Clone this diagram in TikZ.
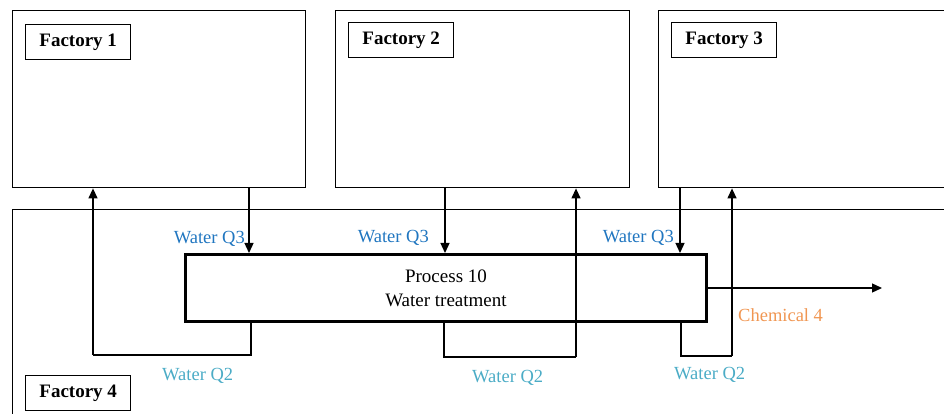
\documentclass[tikz,border=0pt]{standalone}
\usepackage{fontspec}
\setmainfont{Liberation Serif}
\usetikzlibrary{arrows.meta,positioning}
\definecolor{qthree}{RGB}{32,118,192}
\definecolor{qtwo}{RGB}{75,172,198}
\definecolor{chemorange}{RGB}{240,150,82}

\begin{document}
\begin{tikzpicture}[
    x=1pt, y=1pt,
    factory/.style={rectangle, draw, line width=1.4pt, anchor=north west, inner sep=0pt},
    tag/.style={rectangle, draw, line width=1.4pt, minimum width=105pt, minimum height=35pt,
                font=\fontsize{19}{23}\selectfont\bfseries, inner sep=0pt},
    process/.style={rectangle, draw, line width=3pt, anchor=north west, align=center,
                    minimum width=521pt, minimum height=67pt, font=\fontsize{19}{24}\selectfont},
    flow/.style={-{Triangle[length=10pt,width=9pt]}, line width=1.3pt},
    pipe/.style={line width=1.3pt},
    lab/.style={font=\fontsize{18.5}{22}\selectfont, inner sep=0pt}
]
\clip (0,0) rectangle (944,414);

% Factories
\node[factory, minimum width=293pt, minimum height=177pt] (f1) at (12,404) {};
\node[factory, minimum width=294pt, minimum height=177pt] (f2) at (335,404) {};
\node[factory, minimum width=300pt, minimum height=177pt] (f3) at (658,404) {};
\node[factory, minimum width=960pt, minimum height=230pt] (f4) at (12,205) {};

% Factory names
\node[tag, below right=14pt and 13pt of f1.north west] (t1) {Factory 1};
\node[tag, below right=12pt and 13pt of f2.north west] (t2) {Factory 2};
\node[tag, below right=12pt and 13pt of f3.north west] (t3) {Factory 3};
\node[tag, anchor=north west] (t4) at (25,39) {Factory 4};

% Water treatment
\node[process] (proc) at (184,161) {Process 10\\Water treatment};

% Connector columns
\coordinate (in1) at (249,0);
\coordinate (in2) at (445,0);
\coordinate (in3) at (680,0);
\coordinate (out1) at (251,0);
\coordinate (out2) at (444,0);
\coordinate (out3) at (681,0);
\coordinate (ret1) at (93,59);
\coordinate (ret2) at (576,57);
\coordinate (ret3) at (732,58);
\coordinate (chem) at (882,0);

% Water Q3 to treatment
\draw[flow] (in1 |- f1.south) -- (in1 |- proc.north);
\draw[flow] (in2 |- f2.south) -- (in2 |- proc.north);
\draw[flow] (in3 |- f3.south) -- (in3 |- proc.north);

% Water Q2 back to factories
\draw[pipe] (out1 |- proc.south) -- (out1 |- ret1) -- (ret1);
\draw[flow] (ret1) -- (ret1 |- f1.south);
\draw[pipe] (out2 |- proc.south) -- (out2 |- ret2) -- (ret2);
\draw[flow] (ret2) -- (ret2 |- f2.south);
\draw[pipe] (out3 |- proc.south) -- (out3 |- ret3) -- (ret3);
\draw[flow] (ret3) -- (ret3 |- f3.south);

% Chemical out
\draw[flow] (proc.east) -- (chem |- proc.east);

% Labels
\node[lab, text=qthree, anchor=base east] at (245,170) {Water Q3};
\node[lab, text=qthree, anchor=base east] at (429,171) {Water Q3};
\node[lab, text=qthree, anchor=base east] at (674,171) {Water Q3};
\node[lab, text=qtwo, anchor=base west] at (162,33) {Water Q2};
\node[lab, text=qtwo, anchor=base west] at (472,31) {Water Q2};
\node[lab, text=qtwo, anchor=base west] at (674,34) {Water Q2};
\node[lab, text=chemorange, anchor=base west] at (738,92) {Chemical 4};

\end{tikzpicture}
\end{document}
